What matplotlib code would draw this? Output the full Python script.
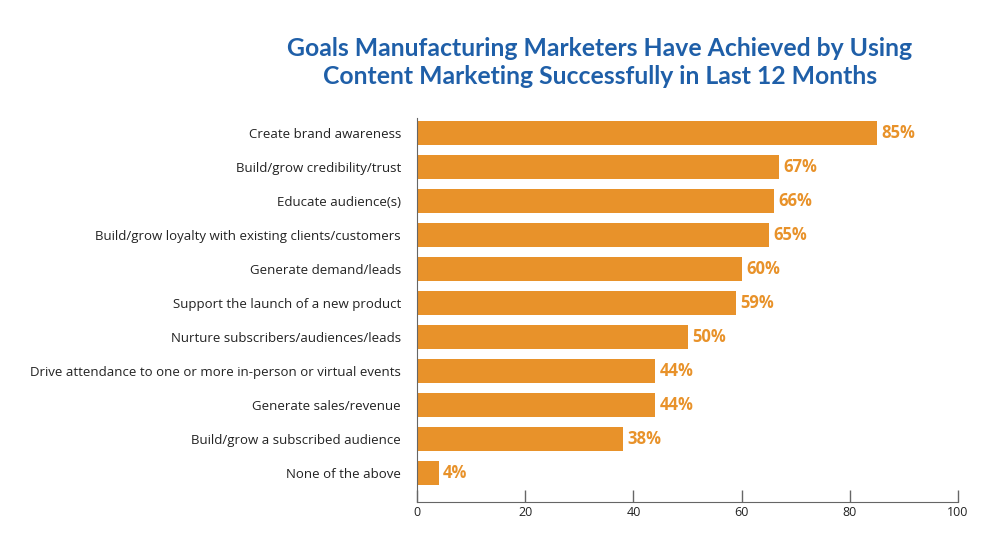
import matplotlib.pyplot as plt

categories = ['Create brand awareness',
              'Build/grow credibility/trust',
              'Educate audience(s)',
              'Build/grow loyalty with existing clients/customers',
              'Generate demand/leads',
              'Support the launch of a new product',
              'Nurture subscribers/audiences/leads',
              'Drive attendance to one or more in-person or virtual events',
              'Generate sales/revenue',
              'Build/grow a subscribed audience',
              'None of the above']
values = [85, 67, 66, 65, 60, 59, 50, 44, 44, 38, 4]
xticks = [0, 20, 40, 60, 80, 100]

bar_color = '#E8922A'
title_color = '#1F5FA8'

fig = plt.figure(figsize=(10, 5.35), dpi=100)
ax = fig.add_axes([0.417, 0.0617, 0.541, 0.718])

pos = list(range(len(categories)))
ax.barh(pos, values, height=0.72, color=bar_color)
for p, v in zip(pos, values):
  ax.text(v + 0.8, p, '{}%'.format(v), va='center', ha='left',
          fontsize=12, fontweight='bold', color=bar_color, family='Open Sans')

ax.set_ylim(10.85, -0.44)
ax.set_xlim(0, 100)
ax.set_yticks(pos)
ax.set_yticklabels(categories, fontsize=9.5, color='#222222', family='Open Sans')
ax.tick_params(axis='y', length=0, pad=11.5)
ax.set_xticks(xticks)
ax.set_xticklabels([str(x) for x in xticks], fontsize=9, color='#222222', family='Open Sans')
ax.tick_params(axis='x', direction='in', length=9, width=1, color='#666666', pad=3)
for s in ['top', 'right']:
  ax.spines[s].set_visible(False)
ax.spines['left'].set_color('#666666')
ax.spines['bottom'].set_color('#666666')

fig.text(0.6, 0.883, 'Goals Manufacturing Marketers Have Achieved by Using\nContent Marketing Successfully in Last 12 Months',
         ha='center', va='center', fontsize=17.8, fontweight='bold', color=title_color,
         family='Lato', linespacing=1.25)

fig.savefig('out.png', dpi=100)
